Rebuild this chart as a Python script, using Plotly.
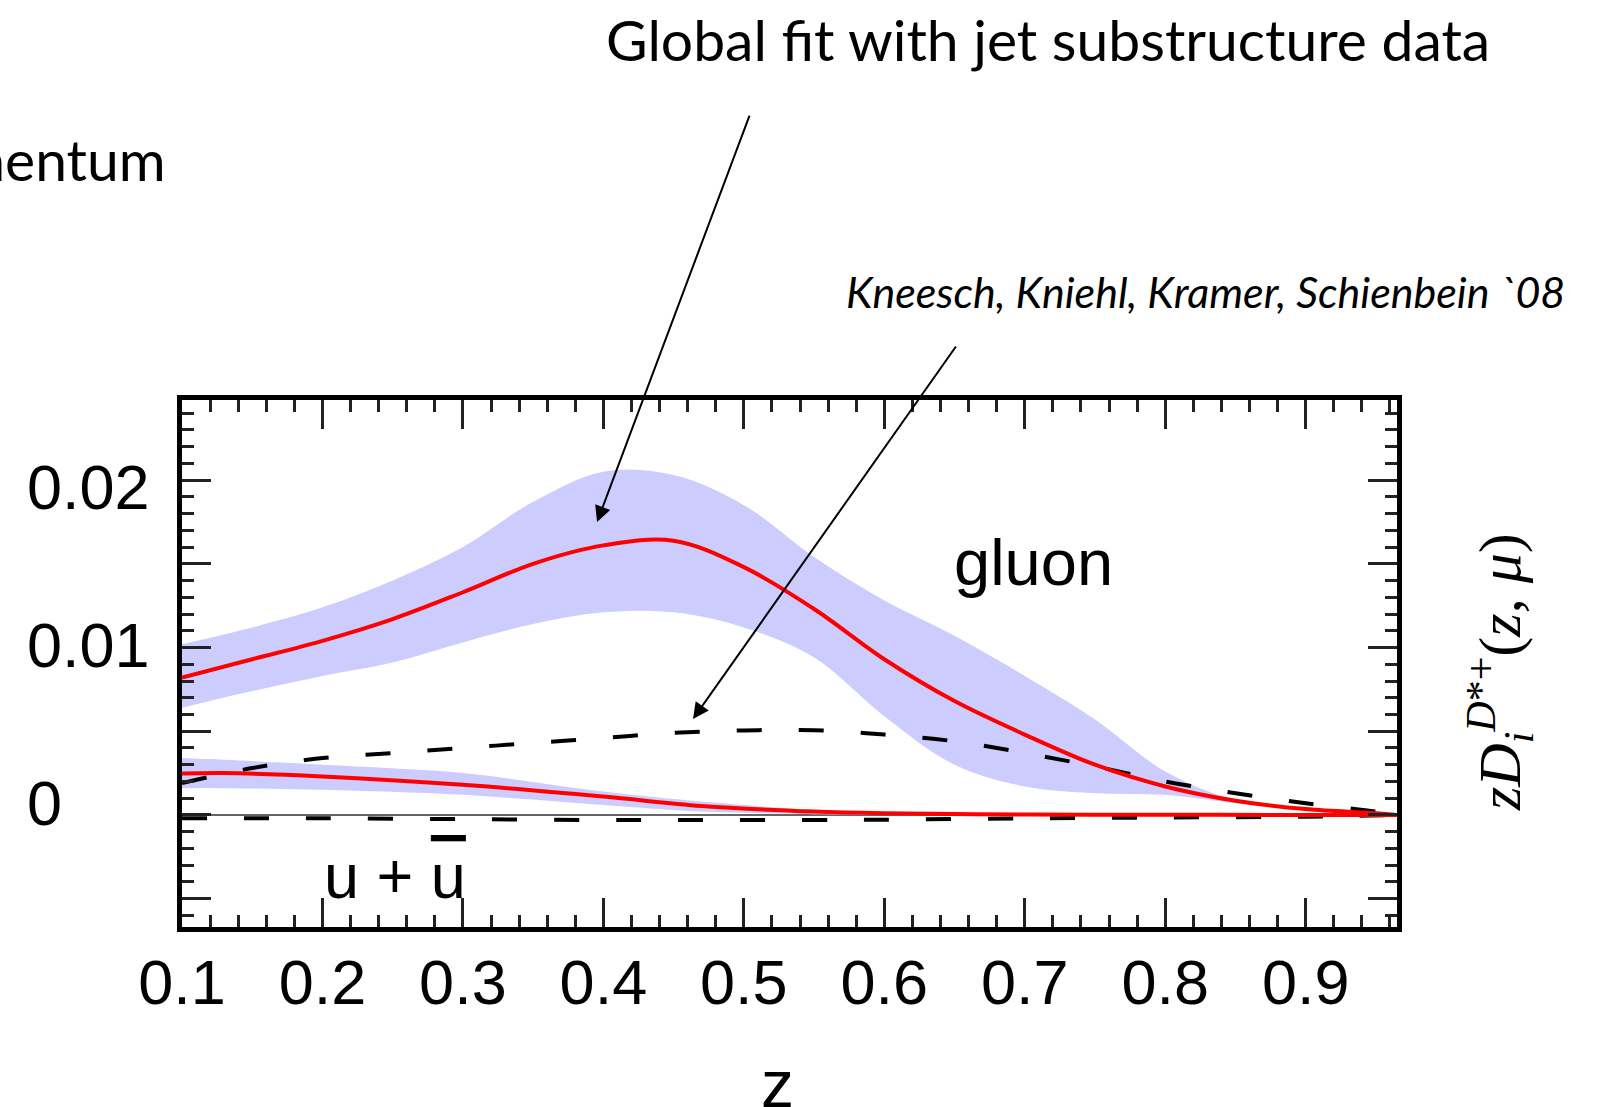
import plotly.graph_objects as go

# ---- data ----
z_g = [0.1, 0.15, 0.2, 0.25, 0.3, 0.35, 0.4, 0.45, 0.5, 0.55, 0.6, 0.65, 0.7, 0.75, 0.8, 0.85, 0.9, 0.95, 0.965]
# gluon: global fit (central curve) and its uncertainty band
gluon_fit = [0.0082, 0.0093, 0.0104, 0.0117, 0.0133, 0.0150, 0.0161, 0.01637, 0.0148, 0.0123, 0.0093, 0.0068,
             0.0048, 0.0030, 0.0017, 0.00085, 0.00035, 0.0001, 0.0]
gluon_hi = [0.0102, 0.0112, 0.0124, 0.0140, 0.0160, 0.0187, 0.0205, 0.0203, 0.0185, 0.0154, 0.0128, 0.0107,
            0.0083, 0.0057, 0.0026, 0.0009, 0.0004, 0.0001, 0.0]
gluon_lo = [0.0064, 0.0074, 0.0083, 0.0091, 0.0103, 0.0114, 0.0121, 0.0121, 0.0112, 0.0094, 0.0059, 0.0030,
            0.0017, 0.0013, 0.0012, 0.0007, 0.0003, 0.0001, 0.0]
# gluon: Kneesch, Kniehl, Kramer, Schienbein '08
gluon_kkks = [0.0019, 0.0028, 0.0034, 0.0037, 0.0040, 0.0043, 0.0046, 0.0049, 0.00505, 0.00506, 0.0048, 0.0044,
              0.0037, 0.0029, 0.0020, 0.0013, 0.0007, 0.0002, 0.0]

# u + ubar
z_u = [0.1, 0.13, 0.2, 0.3, 0.4, 0.47, 0.55, 0.6, 0.7, 0.8, 0.9, 0.965]
u_fit = [0.00247, 0.0025, 0.0023, 0.0018, 0.0011, 0.00054, 0.0002, 0.0001, 0.00003, 0.00001, 0.0, 0.0]
u_hi = [0.0034, 0.0033, 0.0030, 0.0025, 0.0014, 0.0008, 0.0003, 0.00015, 0.00005, 0.00002, 0.0, 0.0]
u_lo = [0.0016, 0.0016, 0.0015, 0.0012, 0.0006, 0.0002, 0.00005, 0.0, 0.0, 0.0, 0.0, 0.0]
u_kkks = [-0.0002, -0.0002, -0.0002, -0.00025, -0.0003, -0.0003, -0.0003, -0.00028, -0.0002, -0.00015, -0.0001, 0.0]

x_ticks = [0.1, 0.2, 0.3, 0.4, 0.5, 0.6, 0.7, 0.8, 0.9]
y_label_vals = [0.02, 0.01, 0.0]
y_label_text = ["0.02", "0.01", "0"]

BAND = "rgb(204,204,255)"
RED = "rgb(255,0,0)"
SANS = "Liberation Sans, Arial, sans-serif"
GILL = "Lato, Noto Sans, sans-serif"

fig = go.Figure()

# gluon band
fig.add_trace(go.Scatter(x=z_g, y=gluon_hi, mode="lines", line=dict(width=0, shape="spline"),
                         hoverinfo="skip", showlegend=False))
fig.add_trace(go.Scatter(x=z_g, y=gluon_lo, mode="lines", line=dict(width=0, shape="spline"),
                         fill="tonexty", fillcolor=BAND, hoverinfo="skip", showlegend=False))
# u band
fig.add_trace(go.Scatter(x=z_u, y=u_hi, mode="lines", line=dict(width=0, shape="spline"),
                         hoverinfo="skip", showlegend=False))
fig.add_trace(go.Scatter(x=z_u, y=u_lo, mode="lines", line=dict(width=0, shape="spline"),
                         fill="tonexty", fillcolor=BAND, hoverinfo="skip", showlegend=False))
# KKKS dashed
fig.add_trace(go.Scatter(x=z_g, y=gluon_kkks, mode="lines",
                         line=dict(color="black", width=4, dash="25px,37px", shape="spline"), showlegend=False))
fig.add_trace(go.Scatter(x=z_u, y=u_kkks, mode="lines",
                         line=dict(color="black", width=4, dash="25px,37px", shape="spline"), showlegend=False))
# global fit (red)
fig.add_trace(go.Scatter(x=z_g, y=gluon_fit, mode="lines",
                         line=dict(color=RED, width=4, shape="spline"), showlegend=False))
fig.add_trace(go.Scatter(x=z_u, y=u_fit, mode="lines",
                         line=dict(color=RED, width=4, shape="spline"), showlegend=False))

tickcol = "#222222"
fig.update_xaxes(range=[0.1, 0.965], showline=True, linewidth=5, linecolor="black", mirror="allticks",
                 ticks="inside", ticklen=29, tickwidth=2.5, tickcolor=tickcol,
                 tickvals=x_ticks, ticktext=[f"{v:.1f}" for v in x_ticks],
                 tickfont=dict(family=SANS, size=63, color="black"), ticklabelstandoff=-4,
                 minor=dict(dtick=0.02, tick0=0.1, ticks="inside", ticklen=12, tickwidth=2.5, tickcolor=tickcol),
                 showgrid=False, zeroline=False)
fig.update_yaxes(range=[-0.00669, 0.02478], showline=True, linewidth=5, linecolor="black", mirror="allticks",
                 ticks="inside", ticklen=29, tickwidth=2.5, tickcolor=tickcol,
                 dtick=0.005, tick0=0, showticklabels=False,
                 minor=dict(dtick=0.001, tick0=0, ticks="inside", ticklen=12, tickwidth=2.5, tickcolor=tickcol),
                 showgrid=False, zeroline=True, zerolinecolor="#666666", zerolinewidth=2)

ann = []
# y tick labels, left aligned
for v, t, sh in zip(y_label_vals, y_label_text, [-7, 3, 12]):
    ann.append(dict(x=-0.1292, xref="paper", y=v, yref="y", text=t, showarrow=False,
                    xanchor="left", yanchor="middle", yshift=sh,
                    font=dict(family=SANS, size=63, color="black")))
# x axis title
ann.append(dict(x=0.4905, xref="paper", y=-0.298, yref="paper", text="z", showarrow=False,
                xanchor="center", yanchor="middle", font=dict(family=SANS, size=66, color="black")))
# right axis title
ann.append(dict(x=1.0848, xref="paper", y=0.4839, yref="paper", textangle=-90, showarrow=False,
                text="<i>zD</i><sub><i>i</i></sub><sup><i>D</i>*+</sup>(<i>z</i>, <i>μ</i>)",
                xanchor="center", yanchor="middle",
                font=dict(family="Liberation Serif, Times New Roman, serif", size=60, color="black")))
# curve labels
ann.append(dict(x=0.6337, xref="paper", y=0.6917, yref="paper", text="gluon", showarrow=False,
                xanchor="left", yanchor="middle", font=dict(family=SANS, size=65, color="black")))
ann.append(dict(x=0.1152, xref="paper", y=0.0968, yref="paper",
                text='u + <span style="text-decoration:overline">u</span>', showarrow=False,
                xanchor="left", yanchor="middle", font=dict(family=SANS, size=63, color="black")))
# top texts
ann.append(dict(x=0.7128, xref="paper", y=1.6850, yref="paper", text="Global fit with jet substructure data",
                showarrow=False, xanchor="center", yanchor="middle",
                font=dict(family=GILL, size=57, color="black")))
ann.append(dict(x=-0.0115, xref="paper", y=1.4575, yref="paper", text="momentum",
                showarrow=False, xanchor="right", yanchor="middle",
                font=dict(family=GILL, size=57, color="black")))
ann.append(dict(x=0.842, xref="paper", y=1.2068, yref="paper", text="<i>Kneesch, Kniehl, Kramer, Schienbein `08</i>",
                showarrow=False, xanchor="center", yanchor="middle",
                font=dict(family=GILL, size=43, color="black")))
# arrows
ann.append(dict(x=0.3955, y=0.01749, xref="x", yref="y", text="", showarrow=True,
                ax=153, ay=-408, axref="pixel", ayref="pixel",
                arrowhead=2, arrowsize=1.6, arrowwidth=2, arrowcolor="black"))
ann.append(dict(x=0.4638, y=0.00573, xref="x", yref="y", text="", showarrow=True,
                ax=264, ay=-374, axref="pixel", ayref="pixel",
                arrowhead=2, arrowsize=1.6, arrowwidth=2, arrowcolor="black"))

fig.update_layout(width=1599, height=1107, margin=dict(l=182, r=202, t=400, b=180),
                  plot_bgcolor="white", paper_bgcolor="white", annotations=ann, showlegend=False)

fig.write_html("out.html")
